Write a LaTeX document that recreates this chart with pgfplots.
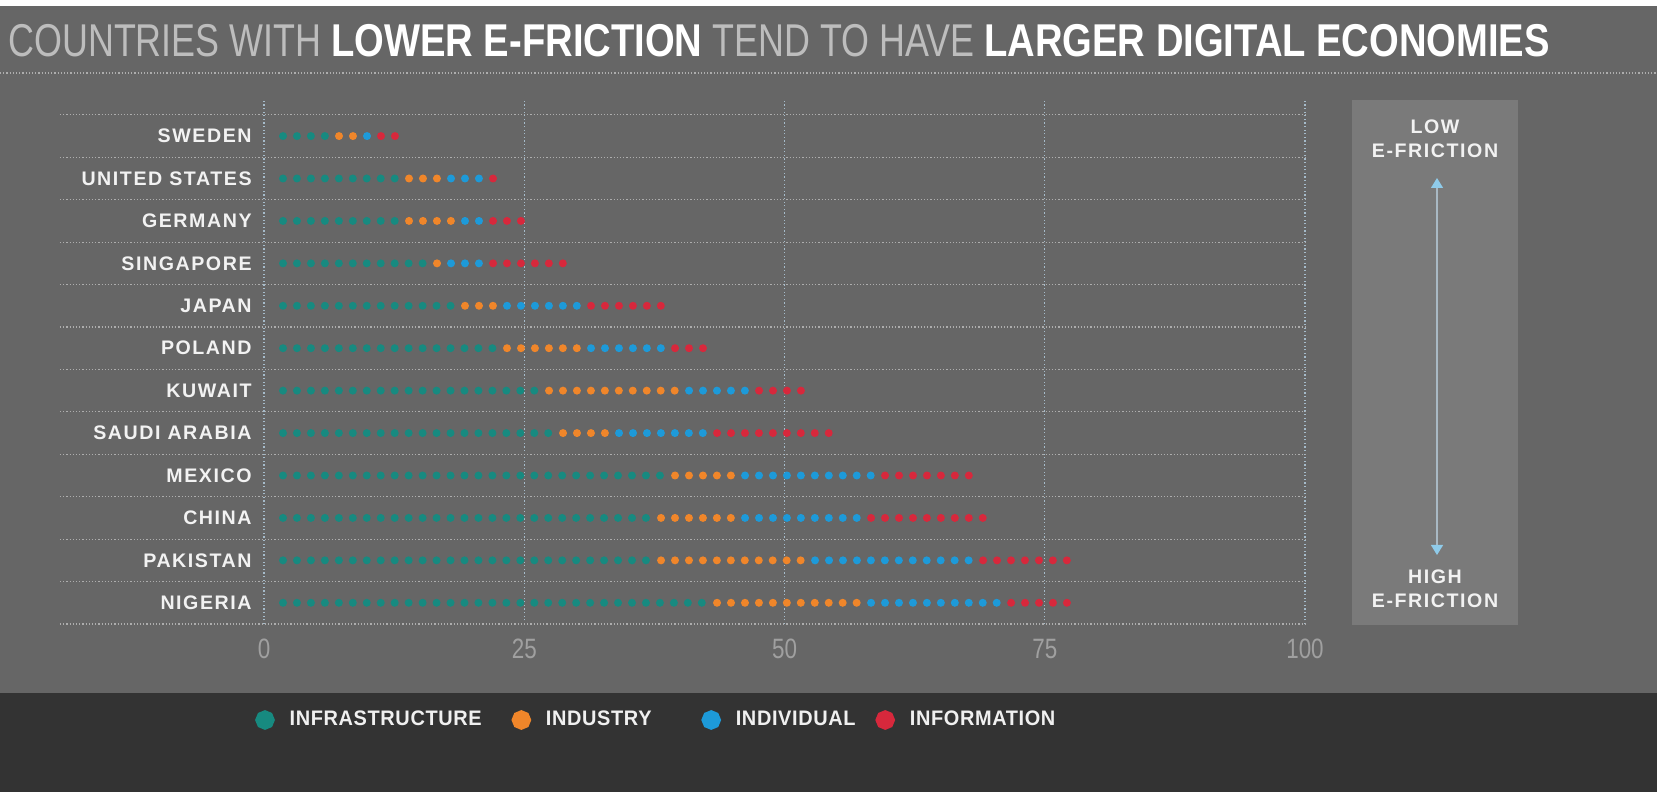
\documentclass[border=0pt]{standalone}
\usepackage{fontspec}
\setmainfont{Liberation Sans}
\newfontfamily\titlelightfont[FakeStretch=0.78]{Liberation Sans}
\newfontfamily\titleboldfont[FakeStretch=0.83]{Liberation Sans}
\newfontfamily\labelfont[LetterSpace=8]{Liberation Sans}
\newfontfamily\legendfont[FakeStretch=0.95,LetterSpace=3]{Liberation Sans}
\newfontfamily\ticknumfont[FakeStretch=0.8]{Liberation Sans}
\usepackage{pgfplots}
\pgfplotsset{compat=1.18}
\usetikzlibrary{arrows.meta}
\definecolor{bg}{HTML}{666666}
\definecolor{barc}{HTML}{333333}
\definecolor{boxc}{HTML}{7A7A7A}
\definecolor{cinfra}{HTML}{178A80}
\definecolor{cindus}{HTML}{F0862A}
\definecolor{cindiv}{HTML}{1D9AD9}
\definecolor{cinfo}{HTML}{D7283C}
\definecolor{sepc}{HTML}{ADADAD}
\definecolor{gridc}{HTML}{A6BCCB}
\definecolor{tickc}{HTML}{A0A0A0}
\definecolor{arrowc}{HTML}{8FCBEA}
\definecolor{arrowline}{HTML}{A9B9C4}
\definecolor{labelc}{HTML}{F2F2F2}
\definecolor{legendc}{HTML}{F0F0F0}
\definecolor{titlelight}{HTML}{BDBDBD}
\begin{document}
\begin{tikzpicture}
\begin{scope}[x=0.5pt,y=0.5pt]
\path[use as bounding box] (0,0) rectangle (1657,792);
\fill[bg] (0,0) rectangle (1657,792);
\fill[white] (0,786) rectangle (1657,792);
\fill[barc] (0,0) rectangle (1657,99);
\draw[sepc, line width=0.6pt, dash pattern=on 0.6pt off 1pt] (0,719) -- (1657,719);
\node[anchor=base west, inner sep=0pt] at (8,735) {\fontsize{23}{23}\selectfont{\titlelightfont\color{titlelight}COUNTRIES WITH }{\titleboldfont\bfseries\color{white}LOWER E-FRICTION}{\titlelightfont\color{titlelight}\ TEND TO HAVE }{\titleboldfont\bfseries\color{white}LARGER DIGITAL ECONOMIES}};
\fill[boxc] (1352,167) rectangle (1518,692);
\begin{scope}[every node/.style={text=labelc, font=\labelfont\bfseries\fontsize{9.8}{10}\selectfont, inner sep=0pt}]
\node at (1435,665) {LOW};
\node at (1435,641) {E-FRICTION};
\node at (1435,215) {HIGH};
\node at (1435,191) {E-FRICTION};
\end{scope}
\draw[arrowline, line width=0.6pt, {Triangle[width=6pt,length=5pt,color=arrowc]}-{Triangle[width=6pt,length=5pt,color=arrowc]}] (1437,614) -- (1437,237);
\end{scope}
\begin{axis}[
  at={(132pt,84pt)}, anchor=south west,
  scale only axis, width=520.5pt, height=262pt,
  xmin=0, xmax=100, ymin=-0.5, ymax=11.85,
  axis line style={draw=none},
  tick style={draw=none},
  xtick={0,25,50,75,100},
  xmajorgrids,
  grid style={gridc, line width=0.6pt, dash pattern=on 0.6pt off 1.2pt},
  ytick={0,...,11},
  yticklabels={NIGERIA,PAKISTAN,CHINA,MEXICO,SAUDI ARABIA,KUWAIT,POLAND,JAPAN,SINGAPORE,GERMANY,UNITED STATES,SWEDEN},
  yticklabel style={font=\labelfont\bfseries\fontsize{9.8}{10}\selectfont, text=labelc, inner sep=0pt, xshift=-6pt},
  xticklabel style={font=\ticknumfont\fontsize{14}{14}\selectfont, text=tickc, anchor=base, yshift=-17pt},
  /pgf/number format/assume math mode=true,
  clip=false,
  unbounded coords=jump,
  every axis plot/.append style={line width=4pt, line cap=round, dash pattern=on 0pt off 6.98pt},
  legend columns=4,
  legend image code/.code={\fill[#1, solid] (0pt,0pt) circle (2.8pt);},
  legend style={at={(-0.0144,-0.1832)}, anchor=west, draw=none, fill=none, text=legendc,
    font=\legendfont\bfseries\fontsize{10.5}{11}\selectfont, nodes={inner sep=0pt},
    /tikz/every odd column/.append style={column sep=7.5pt},
    /tikz/every even column/.append style={column sep=15pt}},
]
\pgfplotsinvokeforeach{-0.5,0.5,...,11.5}{
  \draw[sepc, line width=0.6pt, dash pattern=on 0.6pt off 1pt] (axis cs:-19.6,#1) -- (axis cs:100,#1);
}
% Infrastructure
\addplot[color=cinfra] coordinates {
(1.825,11) (5.860,11) (nan,nan)
(1.825,10) (12.585,10) (nan,nan)
(1.825,9) (12.585,9) (nan,nan)
(1.825,8) (15.275,8) (nan,nan)
(1.825,7) (17.965,7) (nan,nan)
(1.825,6) (22.000,6) (nan,nan)
(1.825,5) (26.035,5) (nan,nan)
(1.825,4) (27.380,4) (nan,nan)
(1.825,3) (38.140,3) (nan,nan)
(1.825,2) (36.795,2) (nan,nan)
(1.825,1) (36.795,1) (nan,nan)
(1.825,0) (42.175,0)
};
\addlegendentry{INFRASTRUCTURE}
% Industry
\addplot[color=cindus] coordinates {
(7.205,11) (8.550,11) (nan,nan)
(13.930,10) (16.620,10) (nan,nan)
(13.930,9) (17.965,9) (nan,nan)
(16.620,8) (16.820,8) (nan,nan)
(19.310,7) (22.000,7) (nan,nan)
(23.345,6) (30.070,6) (nan,nan)
(27.380,5) (39.485,5) (nan,nan)
(28.725,4) (32.760,4) (nan,nan)
(39.485,3) (44.865,3) (nan,nan)
(38.140,2) (44.865,2) (nan,nan)
(38.140,1) (51.590,1) (nan,nan)
(43.520,0) (56.970,0)
};
\addlegendentry{INDUSTRY\kern10pt}
% Individual
\addplot[color=cindiv] coordinates {
(9.895,11) (10.095,11) (nan,nan)
(17.965,10) (20.655,10) (nan,nan)
(19.310,9) (20.655,9) (nan,nan)
(17.965,8) (20.655,8) (nan,nan)
(23.345,7) (30.070,7) (nan,nan)
(31.415,6) (38.140,6) (nan,nan)
(40.830,5) (46.210,5) (nan,nan)
(34.105,4) (42.175,4) (nan,nan)
(46.210,3) (58.315,3) (nan,nan)
(46.210,2) (56.970,2) (nan,nan)
(52.935,1) (67.730,1) (nan,nan)
(58.315,0) (70.420,0)
};
\addlegendentry{INDIVIDUAL\kern-5pt}
% Information
\addplot[color=cinfo] coordinates {
(11.240,11) (12.585,11) (nan,nan)
(22.000,10) (22.200,10) (nan,nan)
(22.000,9) (24.690,9) (nan,nan)
(22.000,8) (28.725,8) (nan,nan)
(31.415,7) (38.140,7) (nan,nan)
(39.485,6) (42.175,6) (nan,nan)
(47.555,5) (51.590,5) (nan,nan)
(43.520,4) (54.280,4) (nan,nan)
(59.660,3) (67.730,3) (nan,nan)
(58.315,2) (69.075,2) (nan,nan)
(69.075,1) (77.145,1) (nan,nan)
(71.765,0) (77.145,0)
};
\addlegendentry{INFORMATION}
\end{axis}
\end{tikzpicture}
\end{document}
